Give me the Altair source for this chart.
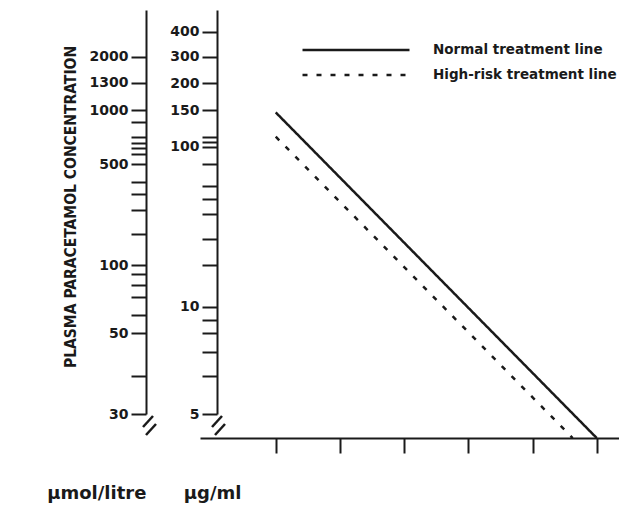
import json
import altair as alt
import pandas as pd

# ---------------- data ----------------
SERIES = ["Normal treatment line", "High-risk treatment line"]
HOUR_START = [4, 4]
HOUR_END = [24, 22.5]
UGML_START = [147, 120]
UGML_END = [4.46, 4.46]          # where each line meets the (broken) time axis

HOUR_TICKS = [4, 8, 12, 16, 20, 24]

UGML_LABELLED = [5, 10, 100, 150, 200, 300, 400]
UGML_MINOR = [6, 7, 8, 9, 20, 30, 40, 50, 60, 80, 110, 120]
UMOL_LABELLED = [30, 50, 100, 500, 1000, 1300, 2000]
UMOL_MINOR = [40, 60, 70, 80, 90, 150, 200, 300, 400, 550, 600, 700, 800, 900]

# ---------------- layout (hand-drawn, non-uniform scales) ----------------
W, H = 419, 428
INK = "#1a1a1a"
UG_KNOTS = [5, 6, 7, 8, 9, 10, 20, 30, 40, 50, 60, 80, 100, 110, 120, 150, 200, 300, 400, 550]
UG_PIX = [404, 365.7, 342.3, 323.3, 310, 296.7, 255, 229.3, 204, 189, 175.7, 154, 136.7,
          131.7, 126.7, 100, 73.3, 46.7, 21.7, 0]
UM_KNOTS = [30, 40, 50, 60, 70, 80, 90, 100, 150, 200, 300, 400, 500, 550, 600, 700, 800,
            900, 1000, 1300, 2000, 4000]
UM_PIX = [404, 365.7, 323.3, 305, 286.7, 275, 264, 255, 224.3, 200, 184.3, 171.7, 154, 144,
          138.3, 132.7, 126.7, 111.7, 100, 72.7, 46.7, 0]

rows = []
for s, h0, h1, v0, v1 in zip(SERIES, HOUR_START, HOUR_END, UGML_START, UGML_END):
    rows.append({"series": s, "hour": h0, "ugml": v0})
    rows.append({"series": s, "hour": h1, "ugml": v1})
lines_df = pd.DataFrame(rows)
umol_df = pd.DataFrame({"umol": UMOL_LABELLED + UMOL_MINOR})


def label_expr(labelled):
    return f"indexof({json.dumps(labelled)}, datum.value) >= 0 ? format(datum.value, 'd') : ''"


common_axis = dict(
    orient="left", grid=False, domainColor=INK, domainWidth=2, tickColor=INK, tickWidth=2,
    tickSize=15, labelPadding=3, labelFont="DejaVu Sans", labelFontWeight="bold",
    labelFontSize=14, labelColor=INK, labelOverlap=False, labelBound=False, labelFlush=False,
    titleColor=INK, titleFontWeight="bold",
)

x_enc = alt.X(
    "hour:Q",
    scale=alt.Scale(domain=[-0.72, 25.39], nice=False, zero=False),
    axis=alt.Axis(
        values=HOUR_TICKS, labels=False, grid=False, domainColor=INK, domainWidth=2,
        tickColor=INK, tickWidth=2, tickSize=15,
        title="µmol/litre", titleX=-153.3, titleY=60.3, titleAlign="left",
        titleBaseline="alphabetic", titleAngle=0, titleFont="DejaVu Sans",
        titleFontSize=18, titleFontWeight="bold", titleColor=INK,
    ),
)

lines = alt.Chart(lines_df).mark_line(color=INK, strokeWidth=2.5).encode(
    x=x_enc,
    y=alt.Y(
        "ugml:Q",
        scale=alt.Scale(type="log", domain=UG_KNOTS, range=UG_PIX, nice=False, zero=False),
        axis=alt.Axis(
            offset=-17, values=UGML_LABELLED + UGML_MINOR, labelExpr=label_expr(UGML_LABELLED),
            title="µg/ml", titleX=-33.7, titleY=488.3, titleAngle=0, titleAlign="left",
            titleBaseline="alphabetic", titleFont="DejaVu Sans", titleFontSize=18,
            **common_axis,
        ),
    ),
    strokeDash=alt.StrokeDash(
        "series:N",
        scale=alt.Scale(domain=SERIES, range=[[1, 0], [5, 9]]),
        legend=alt.Legend(
            title=None, orient="none", legendX=101, legendY=32, padding=0,
            symbolType="stroke", symbolSize=11449, symbolStrokeWidth=2.5,
            symbolStrokeColor=INK, clipHeight=16, rowPadding=9, labelOffset=22,
            labelFont="DejaVu Sans", labelFontWeight="bold", labelFontSize=13.5,
            labelColor=INK, labelLimit=0,
        ),
    ),
)

umol_axis = alt.Chart(umol_df).mark_point(opacity=0).encode(
    y=alt.Y(
        "umol:Q",
        scale=alt.Scale(type="log", domain=UM_KNOTS, range=UM_PIX, nice=False, zero=False),
        axis=alt.Axis(
            offset=54, values=UMOL_LABELLED + UMOL_MINOR, labelExpr=label_expr(UMOL_LABELLED),
            title="PLASMA PARACETAMOL CONCENTRATION", titleX=-76, titleY=196.5,
            titleAngle=270, titleAlign="center", titleBaseline="middle",
            titleFont="Liberation Sans Narrow, DejaVu Sans Condensed, sans-serif",
            titleFontSize=15.5, **common_axis,
        ),
    ),
)


def slash(x1, y1, x2, y2):
    return alt.Chart(alt.Data(values=[{}])).mark_rule(color=INK, strokeWidth=2.5).encode(
        x=alt.value(x1), y=alt.value(y1), x2=alt.value(x2), y2=alt.value(y2)
    )


breaks = [
    slash(-57, 417, -47, 406), slash(-54, 425, -44, 414),
    slash(12, 417, 22, 406), slash(15, 425, 25, 414),
]

chart = alt.layer(lines, umol_axis, *breaks).resolve_scale(y="independent").properties(
    width=W, height=H,
    padding={"left": 192, "top": 2, "right": 0, "bottom": 68},
    autosize=alt.AutoSizeParams(type="none"),
    background="white",
).configure_view(stroke=None)

chart.save("out.html", embed_options={"renderer": "svg", "actions": False})
